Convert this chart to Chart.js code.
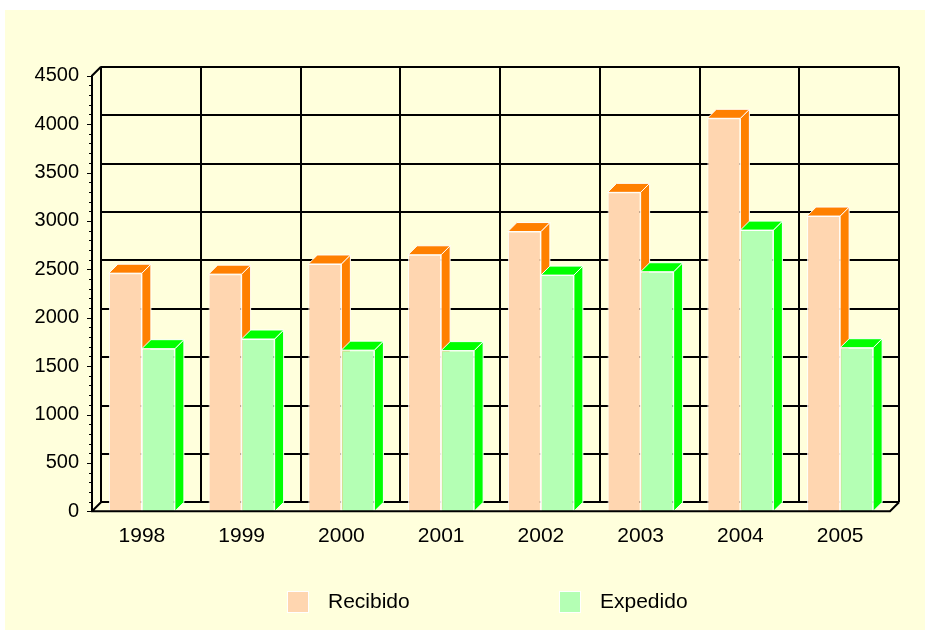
<!DOCTYPE html>
<html>
<head>
<meta charset="utf-8">
<script src="https://cdn.jsdelivr.net/npm/chart.js@4"></script>
<style>
  html, body { margin: 0; padding: 0; background: #ffffff; }
  #wrap { width: 930px; height: 633px; }
</style>
</head>
<body>
<div id="wrap"><canvas id="chart" width="930" height="633"></canvas></div>
<script>
// ---- Data ------------------------------------------------
const years    = ['1998', '1999', '2000', '2001', '2002', '2003', '2004', '2005'];
const recibido = [2460, 2450, 2555, 2650, 2890, 3295, 4060, 3050];
const expedido = [1680, 1780, 1665, 1660, 2440, 2475, 2905, 1690];
const yMax  = 4500;
const yStep = 500;

// ---- Style -----------------------------------------------
const FONT   = '"Liberation Sans", Arial, sans-serif';
const DEPTH  = 9;
const PANEL  = '#ffffdc';
const faces = [
  { front: '#ffd6b0', side: '#ff8000' },   // Recibido
  { front: '#b4ffb4', side: '#00ff00' }    // Expedido
];

/* ---- 3D look: back wall, side/top faces, axes, legend ---- */
const box3d = {
  id: 'box3d',
  beforeDraw(chart) {
    const ctx = chart.ctx;
    ctx.save();
    ctx.fillStyle = '#ffffff';
    ctx.fillRect(0, 0, chart.width, chart.height);
    ctx.fillStyle = PANEL;
    ctx.fillRect(5, 10, 920, 620);
    ctx.restore();
  },
  beforeDatasetsDraw(chart) {
    const ctx = chart.ctx;
    const { left, right, top, bottom } = chart.chartArea;
    const ys = chart.scales.y, xs = chart.scales.x;
    const cw = xs.getPixelForValue(1) - xs.getPixelForValue(0);

    ctx.save();
    ctx.strokeStyle = '#000';
    ctx.lineWidth = 2;
    // back wall horizontal lines
    for (let v = 0; v <= yMax; v += yStep) {
      const y = Math.round(ys.getPixelForValue(v) - DEPTH);
      ctx.beginPath();
      ctx.moveTo(left + DEPTH, y);
      ctx.lineTo(right + DEPTH, y);
      ctx.stroke();
    }
    // back wall vertical lines
    for (let i = 0; i <= years.length; i++) {
      const x = Math.round(xs.getPixelForValue(0) - cw / 2 + i * cw + DEPTH);
      ctx.beginPath();
      ctx.moveTo(x, top - DEPTH);
      ctx.lineTo(x, bottom - DEPTH);
      ctx.stroke();
    }

    // side and top faces (fronts come from Chart.js)
    ctx.lineWidth = 1;
    ctx.strokeStyle = '#ffffff';
    for (let i = 0; i < years.length; i++) {
      [0, 1].forEach(d => {
        const el = chart.getDatasetMeta(d).data[i];
        const { x, y, base, width } = el.getProps(['x', 'y', 'base', 'width'], true);
        const l = x - width / 2, r = x + width / 2;
        ctx.fillStyle = faces[d].side;
        ctx.beginPath();
        ctx.moveTo(r, y);
        ctx.lineTo(r + DEPTH, y - DEPTH);
        ctx.lineTo(r + DEPTH, base - DEPTH);
        ctx.lineTo(r, base);
        ctx.closePath();
        ctx.fill();
        ctx.stroke();
        ctx.beginPath();
        ctx.moveTo(l, y);
        ctx.lineTo(l + DEPTH, y - DEPTH);
        ctx.lineTo(r + DEPTH, y - DEPTH);
        ctx.lineTo(r, y);
        ctx.closePath();
        ctx.fill();
        ctx.stroke();
      });
    }
    ctx.restore();
  },
  afterDatasetsDraw(chart) {
    const ctx = chart.ctx;
    const { left, right, top, bottom } = chart.chartArea;
    const ys = chart.scales.y;
    ctx.save();
    ctx.strokeStyle = '#000';
    ctx.lineWidth = 2;
    ctx.beginPath();
    ctx.moveTo(left + DEPTH, top - DEPTH);
    ctx.lineTo(left, top);
    ctx.lineTo(left, bottom);
    ctx.lineTo(right, bottom);
    ctx.lineTo(right + DEPTH, bottom - DEPTH);
    ctx.moveTo(left, bottom);
    ctx.lineTo(left + DEPTH, bottom - DEPTH);
    ctx.stroke();
    // minor ticks on the front axis
    ctx.lineWidth = 1;
    for (let v = 0; v <= yMax; v += 100) {
      const y = Math.round(ys.getPixelForValue(v)) + 0.5;
      ctx.beginPath();
      ctx.moveTo(left - (v % yStep === 0 ? 5 : 3), y);
      ctx.lineTo(left, y);
      ctx.stroke();
    }
    ctx.restore();
  },
  afterDraw(chart) {
    // legend
    const ctx = chart.ctx;
    const spots = [287, 559];
    ctx.save();
    ctx.font = '21px ' + FONT;
    ctx.textBaseline = 'middle';
    chart.data.datasets.forEach((ds, i) => {
      const bx = spots[i];
      ctx.fillStyle = ds.backgroundColor;
      ctx.fillRect(bx, 591, 22, 22);
      ctx.strokeStyle = '#ffffff';
      ctx.lineWidth = 1;
      ctx.strokeRect(bx + 0.5, 591.5, 21, 21);
      ctx.fillStyle = '#000';
      ctx.fillText(ds.label, bx + 41, 602);
    });
    ctx.restore();
  }
};

new Chart(document.getElementById('chart'), {
  type: 'bar',
  data: {
    labels: years,
    datasets: [
      { label: 'Recibido', data: recibido, backgroundColor: faces[0].front,
        borderColor: '#ffffff', borderWidth: 1 },
      { label: 'Expedido', data: expedido, backgroundColor: faces[1].front,
        borderColor: '#ffffff', borderWidth: 1 }
    ]
  },
  options: {
    responsive: false,
    animation: false,
    events: [],
    layout: { padding: { top: 75.7, right: 40, bottom: 81.7, left: 0 } },
    datasets: { bar: { categoryPercentage: 0.662, barPercentage: 1.0 } },
    scales: {
      x: {
        grid: { display: false },
        border: { display: false },
        ticks: { color: '#000', font: { family: FONT, size: 21 }, padding: 4 },
        afterFit(s) { s.height = 40; }
      },
      y: {
        min: 0,
        max: yMax,
        grid: { display: false },
        border: { display: false },
        ticks: {
          stepSize: yStep, color: '#000', font: { family: FONT, size: 20 }, padding: 5,
          callback: v => String(v)
        },
        afterFit(s) { s.width = 92; }
      }
    },
    plugins: {
      legend: { display: false },
      tooltip: { enabled: false }
    }
  },
  plugins: [box3d]
});
</script>
</body>
</html>
